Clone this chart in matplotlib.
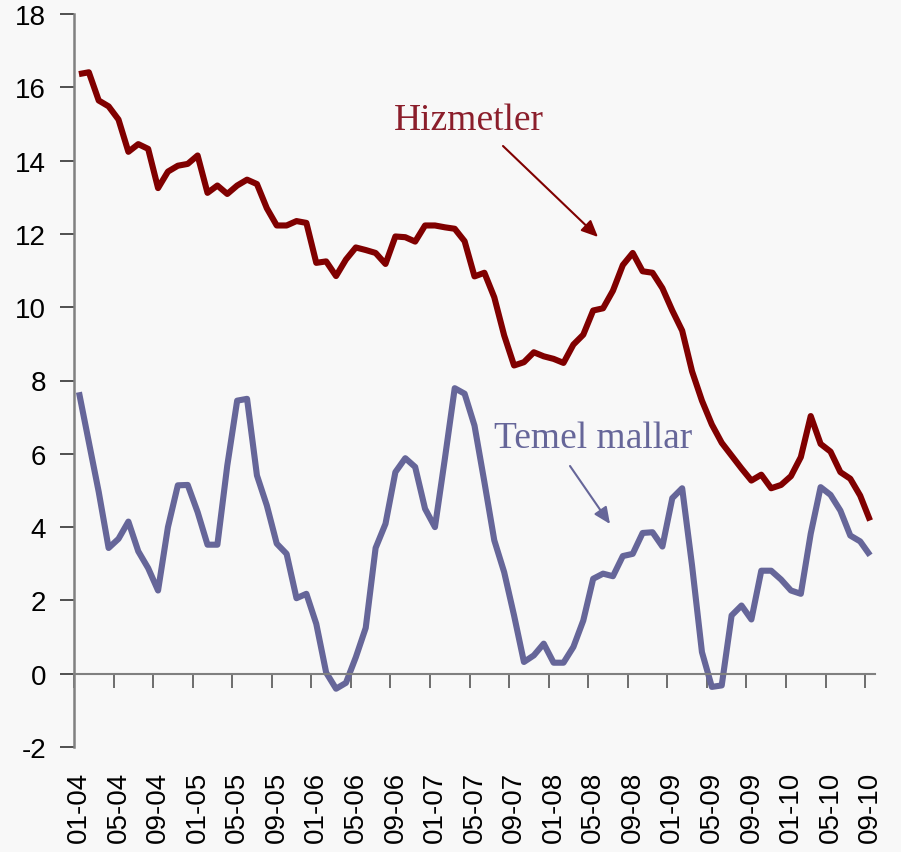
import matplotlib
matplotlib.use("Agg")
import matplotlib.pyplot as plt

plt.rcParams['axes.unicode_minus'] = False

tick_labels = ["01-04", "05-04", "09-04", "01-05", "05-05", "09-05", "01-06",
               "05-06", "09-06", "01-07", "05-07", "09-07", "01-08", "05-08",
               "09-08", "01-09", "05-09", "09-09", "01-10", "05-10", "09-10"]

hizmetler = [16.36, 16.41, 15.64, 15.48, 15.12, 14.24, 14.45, 14.32, 13.25, 13.70,
             13.86, 13.91, 14.14, 13.12, 13.32, 13.09, 13.32, 13.48, 13.36, 12.70,
             12.23, 12.23, 12.35, 12.30, 11.21, 11.25, 10.85, 11.30, 11.63, 11.56,
             11.48, 11.18, 11.93, 11.91, 11.79, 12.23, 12.23, 12.18, 12.14, 11.80,
             10.84, 10.94, 10.27, 9.23, 8.41, 8.50, 8.77, 8.66, 8.59, 8.48,
             8.98, 9.25, 9.91, 9.97, 10.45, 11.15, 11.48, 10.98, 10.94, 10.52,
             9.91, 9.36, 8.25, 7.45, 6.80, 6.30, 5.95, 5.60, 5.27, 5.43,
             5.06, 5.15, 5.39, 5.91, 7.03, 6.27, 6.06, 5.50, 5.32, 4.86, 4.18]

temel_mallar = [7.68, 6.32, 4.96, 3.43, 3.68, 4.15, 3.34, 2.88, 2.27, 4.00,
                5.14, 5.15, 4.41, 3.52, 3.52, 5.68, 7.45, 7.50, 5.41, 4.59,
                3.55, 3.27, 2.06, 2.18, 1.36, 0.03, -0.41, -0.25, 0.45, 1.25,
                3.43, 4.09, 5.50, 5.88, 5.64, 4.50, 4.00, 5.86, 7.79, 7.64,
                6.77, 5.23, 3.64, 2.77, 1.59, 0.32, 0.50, 0.82, 0.30, 0.30,
                0.73, 1.45, 2.59, 2.73, 2.66, 3.21, 3.27, 3.84, 3.86, 3.47,
                4.79, 5.06, 2.95, 0.59, -0.36, -0.32, 1.59, 1.86, 1.48, 2.81,
                2.81, 2.57, 2.27, 2.18, 3.82, 5.09, 4.88, 4.45, 3.77, 3.61, 3.23]

yticks = [-2, 0, 2, 4, 6, 8, 10, 12, 14, 16, 18]

bg = '#F8F8F8'
red = '#800000'
blue = '#666699'

fig = plt.figure(figsize=(9.01, 8.53), dpi=100, facecolor=bg)
ax = fig.add_axes([74/901, 1-748/853, (875-74)/901, (748-15)/853])
ax.set_facecolor(bg)

x = list(range(len(hizmetler)))
ax.plot(x, hizmetler, color=red, lw=4.4, solid_joinstyle='round', solid_capstyle='butt')
ax.plot(x, temel_mallar, color=blue, lw=4.4, solid_joinstyle='round', solid_capstyle='butt')

n = len(hizmetler)
ax.set_xlim(-0.5, n - 0.5)
ax.set_ylim(-2, 18)

for s in ['top', 'right']:
    ax.spines[s].set_visible(False)
ax.spines['left'].set_color('#808080')
ax.spines['left'].set_linewidth(1.8)
ax.spines['bottom'].set_position(('data', 0))
ax.spines['bottom'].set_color('#808080')
ax.spines['bottom'].set_linewidth(1.5)

ax.set_yticks(yticks)
ax.set_yticklabels([str(v) for v in yticks])
ax.tick_params(axis='y', direction='out', length=10, width=1.2, color='#333333',
               labelsize=20, pad=10)

label_pos = list(range(0, n, 4))
ax.set_xticks([p - 0.5 for p in label_pos])
ax.set_xticklabels([])
ax.tick_params(axis='x', which='major', direction='out', length=10, width=1.2,
               color='#555555')
ax.set_xticks(label_pos, minor=True)
ax.set_xticklabels(tick_labels, minor=True, rotation=90, fontsize=20,
                   family='Liberation Sans')
ax.tick_params(axis='x', which='minor', length=0, pad=70)
for lab in ax.get_yticklabels():
    lab.set_family('Liberation Sans')

ax.annotate('', xy=(598, 853-238), xytext=(503, 853-147),
            xycoords='figure pixels', textcoords='figure pixels',
            arrowprops=dict(arrowstyle='-|>,head_length=1.0,head_width=0.45',
                            color=red, lw=1.5, shrinkA=0, shrinkB=0))

ax.annotate('', xy=(610, 853-525), xytext=(570, 853-467),
            xycoords='figure pixels', textcoords='figure pixels',
            arrowprops=dict(arrowstyle='-|>,head_length=1.0,head_width=0.45',
                            color=blue, lw=1.5, shrinkA=0, shrinkB=0))

fig.text(469/901, 1-130/853, "Hizmetler", fontsize=27, family='Liberation Serif',
         color='#8B1E2B', ha='center', va='baseline')
fig.text(593/901, 1-448/853, "Temel mallar", fontsize=27, family='Liberation Serif',
         color=blue, ha='center', va='baseline')

fig.savefig('out.png', dpi=100, facecolor=bg)
